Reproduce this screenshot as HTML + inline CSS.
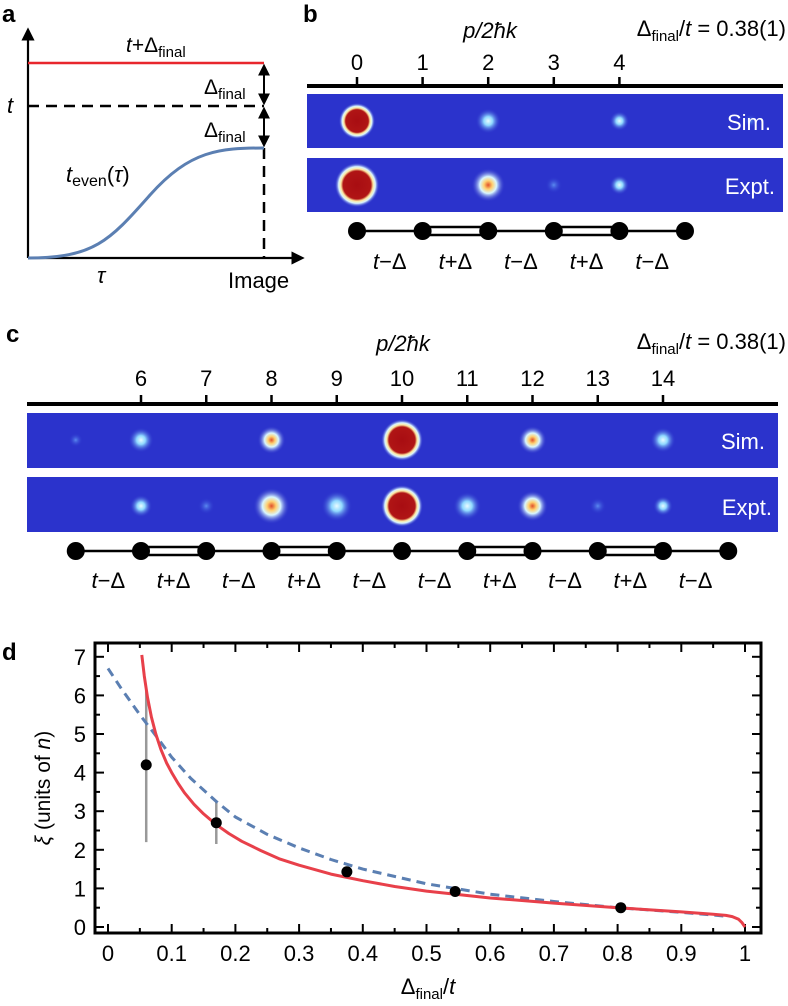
<!DOCTYPE html>
<html><head><meta charset="utf-8"><style>
html,body{margin:0;padding:0;background:#fff}
svg{display:block;font-family:"Liberation Sans",sans-serif}
</style></head><body>
<svg id="fig" width="788" height="1006" viewBox="0 0 788 1006" xmlns="http://www.w3.org/2000/svg">
<defs>
<radialGradient id="gRed"><stop offset="0" stop-color="#a80d12"/><stop offset="0.62" stop-color="#b01515"/><stop offset="0.72" stop-color="#ffe9a0"/><stop offset="0.82" stop-color="#d8f4ff"/><stop offset="1" stop-color="#2b33cc" stop-opacity="0"/></radialGradient>
<radialGradient id="gCyan"><stop offset="0" stop-color="#e8fbff"/><stop offset="0.35" stop-color="#8fd8ff"/><stop offset="1" stop-color="#2b33cc" stop-opacity="0"/></radialGradient>
<radialGradient id="gYel"><stop offset="0" stop-color="#e0502a"/><stop offset="0.25" stop-color="#ffd070"/><stop offset="0.5" stop-color="#d8f6ff"/><stop offset="1" stop-color="#2b33cc" stop-opacity="0"/></radialGradient>
<radialGradient id="gFaint"><stop offset="0" stop-color="#5a8af0"/><stop offset="1" stop-color="#2b33cc" stop-opacity="0"/></radialGradient>
<marker id="arr" viewBox="0 0 10 10" refX="8" refY="5" markerWidth="6" markerHeight="6" orient="auto-start-reverse"><path d="M0,0 L10,5 L0,10 z" fill="#000"/></marker>
</defs>

<!-- Panel a -->
<g>
<text x="2" y="22" font-size="24" font-weight="bold">a</text>
<line x1="28" y1="258" x2="28" y2="30" stroke="#000" stroke-width="2.2" marker-end="url(#arr)"/>
<line x1="28" y1="258" x2="302" y2="258" stroke="#000" stroke-width="2.2" marker-end="url(#arr)"/>
<line x1="28" y1="63" x2="264" y2="63" stroke="#e8262c" stroke-width="2.5"/>
<line x1="28" y1="106" x2="264" y2="106" stroke="#000" stroke-width="2.5" stroke-dasharray="11,7"/>
<line x1="264" y1="148" x2="264" y2="258" stroke="#000" stroke-width="2.5" stroke-dasharray="11,7"/>
<line x1="264" y1="66" x2="264" y2="103" stroke="#000" stroke-width="2" marker-start="url(#arr)" marker-end="url(#arr)"/>
<line x1="264" y1="109" x2="264" y2="145" stroke="#000" stroke-width="2" marker-start="url(#arr)" marker-end="url(#arr)"/>
<path d="M28,258 C95,258 110,240 150,195 C190,150 220,148 264,148" fill="none" stroke="#5b7fb2" stroke-width="3"/>
<text x="126" y="52" font-size="21"><tspan font-style="italic">t</tspan>+Δ<tspan font-size="15" dy="5">final</tspan></text>
<text x="204" y="94" font-size="21">Δ<tspan font-size="15" dy="5">final</tspan></text>
<text x="204" y="137" font-size="21">Δ<tspan font-size="15" dy="5">final</tspan></text>
<text x="7" y="113" font-size="22" font-style="italic">t</text>
<text x="66" y="182" font-size="22"><tspan font-style="italic">t</tspan><tspan font-size="16" dy="4">even</tspan><tspan dy="-4">(</tspan><tspan font-style="italic">τ</tspan>)</text>
<text x="97" y="283" font-size="22" font-style="italic">τ</text>
<text x="228" y="288" font-size="22">Image</text>
</g>

<!-- Panel b -->
<g id="panelB">
<text x="303" y="22" font-size="24" font-weight="bold">b</text>
<text x="490" y="38" font-size="22" font-style="italic" text-anchor="middle">p/2ħk</text>
<text x="786" y="36" font-size="22" text-anchor="end">Δ<tspan font-size="15" dy="5">final</tspan><tspan dy="-5">/</tspan><tspan font-style="italic">t</tspan> = 0.38(1)</text>
<rect x="307" y="84" width="476" height="4" fill="#000"/>
<rect x="307" y="94" width="476" height="54" fill="#2b33cc"/>
<rect x="307" y="158" width="476" height="54" fill="#2b33cc"/>
</g>

<!-- Panel c -->
<g id="panelC">
<text x="6" y="342" font-size="24" font-weight="bold">c</text>
<text x="403" y="351" font-size="22" font-style="italic" text-anchor="middle">p/2ħk</text>
<text x="786" y="349" font-size="22" text-anchor="end">Δ<tspan font-size="15" dy="5">final</tspan><tspan dy="-5">/</tspan><tspan font-style="italic">t</tspan> = 0.38(1)</text>
<rect x="27" y="402" width="751" height="4" fill="#000"/>
<rect x="27" y="413" width="751" height="55" fill="#2b33cc"/>
<rect x="27" y="477" width="751" height="55" fill="#2b33cc"/>
</g>

<!-- Panel d -->
<g id="panelD">
<text x="2" y="660" font-size="24" font-weight="bold">d</text>
<rect x="95" y="643" width="666" height="290" fill="none" stroke="#000" stroke-width="3"/>
<text x="428" y="994" font-size="22" text-anchor="middle">Δ<tspan font-size="15" dy="5">final</tspan><tspan dy="-5">/</tspan><tspan font-style="italic">t</tspan></text>
<text transform="translate(50,788) rotate(-90)" font-size="21" text-anchor="middle"><tspan font-style="italic">ξ</tspan> (units of <tspan font-style="italic">n</tspan>)</text>
</g>
</svg>
<script>
// ---- Panel b/c data ----
var bTicks = [0,1,2,3,4];
var bSim = [{k:0,type:'red',r:13},{k:2,type:'cyan',r:9},{k:4,type:'cyan',r:7},{k:6,type:'faint',r:5}];
var bExpt = [{k:0,type:'red',r:16},{k:2,type:'yel',r:12},{k:3,type:'faint',r:6},{k:4,type:'cyan',r:7}];
var bBonds = ['s','d','s','d','s'];
var bBondLabels = ['t−Δ','t+Δ','t−Δ','t+Δ','t−Δ'];
var cTicks = [6,7,8,9,10,11,12,13,14];
var cSim = [{k:5,type:'faint',r:5},{k:6,type:'cyan',r:9},{k:8,type:'yel',r:10},{k:10,type:'red',r:15},{k:12,type:'yel',r:10},{k:14,type:'cyan',r:9}];
var cExpt = [{k:6,type:'cyan',r:8},{k:7,type:'faint',r:6},{k:8,type:'yel',r:13},{k:9,type:'cyan',r:11},{k:10,type:'red',r:15},{k:11,type:'cyan',r:10},{k:12,type:'yel',r:11},{k:13,type:'faint',r:6},{k:14,type:'cyan',r:7}];
var cBonds = ['s','d','s','d','s','s','d','s','d','s'];
var cBondLabels = ['t−Δ','t+Δ','t−Δ','t+Δ','t−Δ','t−Δ','t+Δ','t−Δ','t+Δ','t−Δ'];

// ---- Panel d data ----
var dXTicks = [0,0.1,0.2,0.3,0.4,0.5,0.6,0.7,0.8,0.9,1];
var dXTickLabels = ['0','0.1','0.2','0.3','0.4','0.5','0.6','0.7','0.8','0.9','1'];
var dYTicks = [0,1,2,3,4,5,6,7];
var ptX = [0.06,0.17,0.375,0.545,0.805];
var ptY = [4.2,2.7,1.43,0.92,0.5];
var errLo = [2.2,2.15,1.43,0.92,0.5];
var errHi = [6.2,3.25,1.43,0.92,0.5];
var redX = [0.053,0.057,0.062,0.068,0.075,0.083,0.092,0.1,0.11,0.12,0.135,0.15,0.17,0.19,0.21,0.24,0.27,0.3,0.35,0.4,0.45,0.5,0.6,0.7,0.8,0.9,0.95,0.97,0.98,0.99,0.995,1.0];
var redY = [7.05,6.5,5.95,5.45,5.0,4.6,4.25,4.0,3.72,3.48,3.18,2.93,2.65,2.42,2.22,1.98,1.76,1.6,1.37,1.2,1.05,0.93,0.75,0.62,0.5,0.39,0.33,0.3,0.27,0.2,0.12,0.0];
var blueX = [0,0.02,0.05,0.08,0.1,0.13,0.17,0.2,0.25,0.3,0.35,0.4,0.5,0.6,0.7,0.8,0.9,0.97];
var blueY = [6.7,6.2,5.5,4.85,4.4,3.85,3.25,2.85,2.4,2.05,1.75,1.5,1.12,0.85,0.66,0.5,0.38,0.28];

var NS = 'http://www.w3.org/2000/svg';
var svg = document.getElementById('fig');
function mk(tag, attrs, parent, txt){
  var e = document.createElementNS(NS, tag);
  for (var k in attrs) e.setAttribute(k, attrs[k]);
  if (txt !== undefined) e.textContent = txt;
  (parent || svg).appendChild(e);
  return e;
}
var grad = {red:'url(#gRed)',cyan:'url(#gCyan)',yel:'url(#gYel)',faint:'url(#gFaint)'};

function buildStrip(g, x0, dx, k0, ticks, tickY, labelY, simSpots, simY, exptSpots, exptY, bonds, bondLabels, latY, labY, simLblX, exptLblX){
  function px(k){ return x0 + (k - k0) * dx; }
  ticks.forEach(function(t){
    var tl = mk('line', {x1:px(t), y1:tickY-9, x2:px(t), y2:tickY, stroke:'#000', 'stroke-width':2.5}, g);
    
    
    var tx = mk('text', {x:px(t), y:labelY, 'font-size':22, 'text-anchor':'middle'}, g, String(t));
    
    
  });
  simSpots.forEach(function(s){
    var c = mk('circle', {cx:px(s.k), cy:simY, r:s.r*1.4, fill:grad[s.type]}, g);
    
    
  });
  exptSpots.forEach(function(s){
    var c = mk('circle', {cx:px(s.k), cy:exptY, r:s.r*1.4, fill:grad[s.type]}, g);
    
    
  });
  var sl = mk('text', {x:simLblX, y:simY+9, 'font-size':22, fill:'#fff', 'text-anchor':'end'}, g, 'Sim.');
  
  
  var el = mk('text', {x:exptLblX, y:exptY+9, 'font-size':22, fill:'#fff', 'text-anchor':'end'}, g, 'Expt.');
  
  
  var n = bonds.length;
  var nodeStart = ticks[0] - (bonds.length === 10 ? 1 : 0);
  for (var i = 0; i < n; i++){
    var xa = px(nodeStart + i), xb = px(nodeStart + i + 1);
    if (bonds[i] === 's'){
      var l = mk('line', {x1:xa, y1:latY, x2:xb, y2:latY, stroke:'#000', 'stroke-width':2.5}, g);
      
      
    } else {
      var r = mk('rect', {x:xa, y:latY-4, width:xb-xa, height:8, fill:'#fff', stroke:'#000', 'stroke-width':2.5}, g);
      
      
    }
    var bl = mk('text', {x:(xa+xb)/2, y:labY, 'font-size':22, 'text-anchor':'middle'}, g);
    
    
    var parts = bondLabels[i].split('');
    mk('tspan', {'font-style':'italic'}, bl, parts[0]);
    mk('tspan', {}, bl, parts.slice(1).join(''));
  }
  for (var j = 0; j <= n; j++){
    var nd = mk('circle', {cx:px(nodeStart + j), cy:latY, r:9, fill:'#000'}, g);
    
    
  }
}
buildStrip(document.getElementById('panelB'), 357, 65.6, 0, bTicks, 86, 70, bSim, 121, bExpt, 185, bBonds, bBondLabels, 231, 269, 771, 775);
buildStrip(document.getElementById('panelC'), 141, 65.25, 6, cTicks, 404, 386, cSim, 440, cExpt, 506, cBonds, cBondLabels, 551, 588, 765, 772);

// ---- Panel d chart ----
var gd = document.getElementById('panelD');
function X(v){ return 108 + v * 637; }
function Y(v){ return 927 - v * 38.6; }
dXTicks.forEach(function(t, i){
  var a = mk('line', {x1:X(t), y1:933, x2:X(t), y2:924, stroke:'#000', 'stroke-width':2}, gd);
  
  
  var b = mk('line', {x1:X(t), y1:643, x2:X(t), y2:652, stroke:'#000', 'stroke-width':2}, gd);
  
  
  if (i < dXTicks.length - 1){
    var m = (t + dXTicks[i+1]) / 2;
    var c = mk('line', {x1:X(m), y1:933, x2:X(m), y2:928, stroke:'#000', 'stroke-width':2}, gd);
    
    
    var d = mk('line', {x1:X(m), y1:643, x2:X(m), y2:648, stroke:'#000', 'stroke-width':2}, gd);
    
    
  }
  var tx = mk('text', {x:X(t), y:961, 'font-size':22, 'text-anchor':'middle'}, gd, dXTickLabels[i]);
  
  
});
dYTicks.forEach(function(t, i){
  var a = mk('line', {x1:95, y1:Y(t), x2:104, y2:Y(t), stroke:'#000', 'stroke-width':2}, gd);
  
  
  var b = mk('line', {x1:761, y1:Y(t), x2:752, y2:Y(t), stroke:'#000', 'stroke-width':2}, gd);
  
  
  if (i < dYTicks.length - 1){
    var m = t + 0.5;
    var c = mk('line', {x1:95, y1:Y(m), x2:100, y2:Y(m), stroke:'#000', 'stroke-width':2}, gd);
    
    
    var d = mk('line', {x1:761, y1:Y(m), x2:756, y2:Y(m), stroke:'#000', 'stroke-width':2}, gd);
    
    
  }
  var tx = mk('text', {x:86, y:Y(t)+8, 'font-size':22, 'text-anchor':'end'}, gd, String(t));
  
  
});
function pathFrom(xs, ys){
  return xs.map(function(x, i){ return (i ? 'L' : 'M') + X(x).toFixed(1) + ',' + Y(ys[i]).toFixed(1); }).join(' ');
}
ptX.forEach(function(x, i){
  if (errHi[i] > errLo[i]){
    var e = mk('line', {x1:X(x), y1:Y(errLo[i]), x2:X(x), y2:Y(errHi[i]), stroke:'#999', 'stroke-width':2.5}, gd);
    
    
  }
});
var blue = mk('path', {d:pathFrom(blueX, blueY), fill:'none', stroke:'#5b7fb2', 'stroke-width':3, 'stroke-dasharray':'9,6', 'stroke-linejoin':'round'}, gd);


var red = mk('path', {d:pathFrom(redX, redY), fill:'none', stroke:'#e8404a', 'stroke-width':3, 'stroke-linejoin':'round'}, gd);


ptX.forEach(function(x, i){
  var p = mk('circle', {cx:X(x), cy:Y(ptY[i]), r:5.5, fill:'#000'}, gd);
  
  
});
</script>
</body></html>
